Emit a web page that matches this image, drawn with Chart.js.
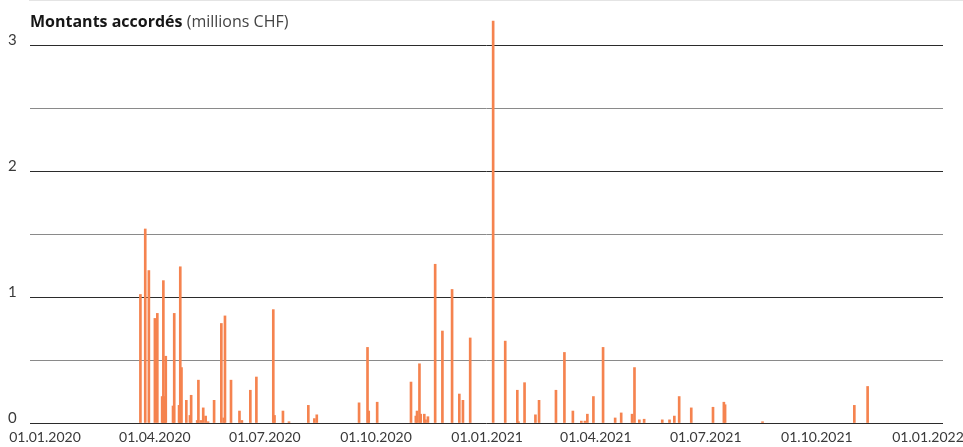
<!DOCTYPE html>
<html>
<head>
<meta charset="utf-8">
<script src="https://cdn.jsdelivr.net/npm/chart.js@4.4.1/dist/chart.umd.min.js"></script>
<style>
  html, body { margin: 0; padding: 0; background: #fff; }
  #wrap { position: relative; width: 963px; height: 447px; }
  #wrap canvas { position: absolute; left: 0; top: 0; }
  .topline { position: absolute; left: 29px; right: 0; top: 0; height: 1px; background: #e4e4e4; }
  .title { position: absolute; left: 30px; top: 10px; font-family: "Open Sans", sans-serif; font-size: 16px; color: #161616; white-space: nowrap; }
  .title b { font-weight: 700; }
  .title span { color: #444; }
</style>
</head>
<body>
<div id="wrap">
  <canvas id="chart" width="963" height="447"></canvas>
  <div class="topline"></div>
  <div class="title"><b>Montants accordés</b> <span>(millions CHF)</span></div>
</div>
<script>
// dates of the grants and amounts (millions CHF)
const dates = [
  '2020-03-20', '2020-03-24', '2020-03-27', '2020-04-01', '2020-04-03', '2020-04-07', '2020-04-08', '2020-04-09',
  '2020-04-10', '2020-04-16', '2020-04-17', '2020-04-21', '2020-04-22', '2020-04-23', '2020-04-27', '2020-04-30',
  '2020-05-01', '2020-05-06', '2020-05-07', '2020-05-09', '2020-05-11', '2020-05-13', '2020-05-15', '2020-05-20',
  '2020-05-26', '2020-05-28', '2020-05-29', '2020-06-03', '2020-06-10', '2020-06-12', '2020-06-19', '2020-06-24',
  '2020-07-08', '2020-07-09', '2020-07-16', '2020-07-21', '2020-08-06', '2020-08-11', '2020-08-13', '2020-09-17',
  '2020-09-24', '2020-09-25', '2020-10-02', '2020-10-30', '2020-11-03', '2020-11-04', '2020-11-06', '2020-11-07',
  '2020-11-10', '2020-11-11', '2020-11-13', '2020-11-19', '2020-11-25', '2020-12-03', '2020-12-09', '2020-12-12',
  '2020-12-18', '2021-01-06', '2021-01-16', '2021-01-26', '2021-01-27', '2021-02-01', '2021-02-10', '2021-02-13',
  '2021-02-27', '2021-03-06', '2021-03-13', '2021-03-20', '2021-03-23', '2021-03-25', '2021-03-30', '2021-04-07',
  '2021-04-17', '2021-04-22', '2021-05-01', '2021-05-03', '2021-05-07', '2021-05-11', '2021-05-26', '2021-06-01',
  '2021-06-05', '2021-06-09', '2021-06-19', '2021-07-07', '2021-07-16', '2021-07-17', '2021-08-17', '2021-11-01',
  '2021-11-12'
];
const amounts = [
  1.02, 1.54, 1.21, 0.83, 0.87, 0.21, 1.13, 0.21,
  0.53, 0.135, 0.87, 0.14, 1.24, 0.44, 0.18, 0.06,
  0.22, 0.02, 0.34, 0.02, 0.12, 0.055, 0.01, 0.18,
  0.79, 0.04, 0.85, 0.34, 0.095, 0.02, 0.26, 0.365,
  0.9, 0.06, 0.095, 0.01, 0.14, 0.035, 0.065, 0.16,
  0.6, 0.095, 0.165, 0.325, 0.055, 0.095, 0.47, 0.07,
  0.07, 0.025, 0.05, 1.26, 0.73, 1.06, 0.23, 0.18,
  0.675, 3.19, 0.65, 0.26, 0.01, 0.32, 0.065, 0.18,
  0.26, 0.56, 0.095, 0.015, 0.015, 0.07, 0.21, 0.6,
  0.04, 0.08, 0.07, 0.44, 0.025, 0.03, 0.025, 0.025,
  0.055, 0.21, 0.12, 0.125, 0.165, 0.145, 0.01, 0.14,
  0.29
];
const tickDates = ['2020-01-01', '2020-04-01', '2020-07-01', '2020-10-01', '2021-01-01',
  '2021-04-01', '2021-07-01', '2021-10-01', '2022-01-01'];
const tickLabels = ['01.01.2020', '01.04.2020', '01.07.2020', '01.10.2020', '01.01.2021',
  '01.04.2021', '01.07.2021', '01.10.2021', '01.01.2022'];
const yTicks = [0, 0.5, 1, 1.5, 2, 2.5, 3];
const yLabels = ['0', '', '1', '', '2', '', '3'];

const day = s => (Date.parse(s) - Date.parse('2020-01-01')) / 864e5;
const points = dates.map((d, i) => ({x: day(d), y: amounts[i]}));

new Chart(document.getElementById('chart'), {
  type: 'bar',
  data: {
    datasets: [{
      data: points,
      backgroundColor: 'rgb(245,131,79)',
      barThickness: 2,
      grouped: false
    }]
  },
  options: {
    responsive: false,
    animation: false,
    devicePixelRatio: 1,
    layout: {padding: {left: 8, right: 20, top: 0, bottom: 0}},
    plugins: {legend: {display: false}, tooltip: {enabled: false}},
    scales: {
      x: {
        type: 'linear',
        offset: false,
        min: -12.4,
        max: 743.4,
        afterBuildTicks: s => { s.ticks = tickDates.map(d => ({value: day(d)})); },
        afterFit: s => { s.height = 24; s.paddingLeft = 0; s.paddingRight = 0; },
        grid: {display: false, drawTicks: false},
        border: {display: false},
        ticks: {
          callback: (v, i) => tickLabels[i],
          autoSkip: false,
          maxRotation: 0,
          padding: 6,
          color: '#3a3a3a',
          font: {family: 'Lato', size: 14}
        }
      },
      y: {
        min: 0,
        max: 3.286,
        afterBuildTicks: s => { s.ticks = yTicks.map(v => ({value: v})); },
        afterFit: s => { s.width = 22; },
        grid: {
          drawTicks: false,
          color: c => (c.tick && c.tick.value % 1 === 0) ? '#2b2b2b' : '#8a8a8a',
          lineWidth: 1
        },
        border: {display: false},
        ticks: {
          callback: (v, i) => yLabels[i],
          crossAlign: 'far',
          labelOffset: -5,
          padding: 0,
          color: '#3a3a3a',
          font: {family: 'Lato', size: 15}
        }
      }
    }
  }
});
</script>
</body>
</html>
